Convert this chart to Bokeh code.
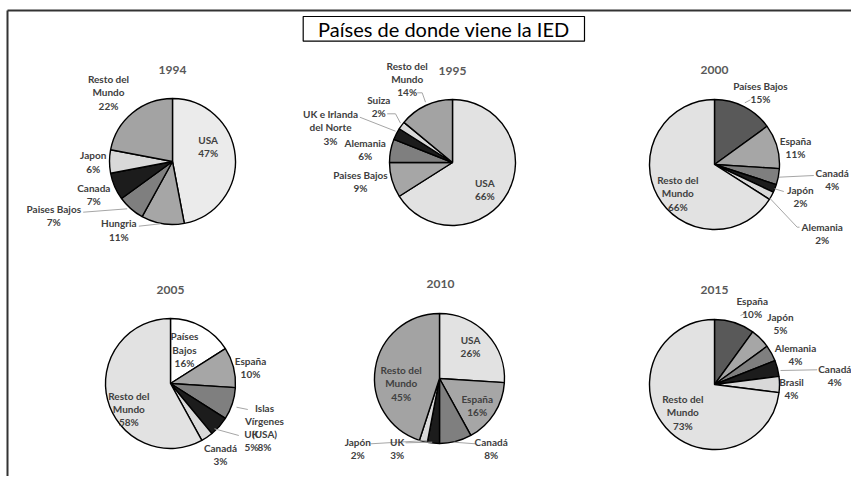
import math
from bokeh.plotting import figure
from bokeh.models import Range1d
from bokeh.embed import file_html
from bokeh.resources import INLINE
from bokeh.core.properties import value

# ---------------- data ----------------
main_title = "Países de donde viene la IED"
years = ["1994", "1995", "2000", "2005", "2010", "2015"]

countries_1994 = ["USA", "Hungria", "Paises Bajos", "Canada", "Japon", "Resto del\nMundo"]
shares_1994 = [47, 11, 7, 7, 6, 22]

countries_1995 = ["USA", "Paises Bajos", "Alemania", "UK e Irlanda\ndel Norte", "Suiza", "Resto del\nMundo"]
shares_1995 = [66, 9, 6, 3, 2, 14]

countries_2000 = ["Países Bajos", "España", "Canadá", "Japón", "Alemania", "Resto del\nMundo"]
shares_2000 = [15, 11, 4, 2, 2, 66]

countries_2005 = ["Países\nBajos", "España", "Islas\nVírgenes\n(USA)", "UK", "Canadá", "Resto del\nMundo"]
shares_2005 = [16, 10, 8, 5, 3, 58]

countries_2010 = ["USA", "España", "Canadá", "UK", "Japón", "Resto del\nMundo"]
shares_2010 = [26, 16, 8, 3, 2, 45]

countries_2015 = ["España", "Japón", "Alemania", "Canadá", "Brasil", "Resto del\nMundo"]
shares_2015 = [10, 5, 4, 4, 4, 73]

pie_countries = [countries_1994, countries_1995, countries_2000,
                 countries_2005, countries_2010, countries_2015]
pie_shares = [shares_1994, shares_1995, shares_2000,
              shares_2005, shares_2010, shares_2015]

# ---------------- layout / style (reference pixel coords) ----------------
W, H = 851, 476

def X(x):
    return x

def Y(y):
    return H - y

centers = [(172, 161), (452, 162), (714, 164), (170, 383), (439, 378), (714, 384)]
radii = [63, 63, 65, 65, 65, 65]
title_pos = [(172, 69), (452, 70), (714, 69), (170, 289), (440, 283), (714, 289)]

colors = [
    ["#ebebeb", "#a6a6a6", "#7f7f7f", "#1c1c1c", "#d9d9d9", "#a3a3a3"],
    ["#e2e2e2", "#a6a6a6", "#7f7f7f", "#1c1c1c", "#d9d9d9", "#a3a3a3"],
    ["#595959", "#a6a6a6", "#7f7f7f", "#1c1c1c", "#d9d9d9", "#e2e2e2"],
    ["#ffffff", "#a6a6a6", "#7f7f7f", "#1c1c1c", "#d9d9d9", "#e2e2e2"],
    ["#e2e2e2", "#a6a6a6", "#7f7f7f", "#1c1c1c", "#d9d9d9", "#a3a3a3"],
    ["#595959", "#a6a6a6", "#7f7f7f", "#1c1c1c", "#d9d9d9", "#e2e2e2"],
]

label_pos = [
    [(207.7, 146.3), (118.3, 229.5), (53.3, 215), (93.3, 194), (92.7, 161.5), (108, 91.7)],
    [(484.3, 189.2), (360, 181), (364.7, 149), (330, 126.7), (378.3, 105.7), (406.7, 78.3)],
    [(760, 92), (795, 146.7), (831.7, 179.2), (800, 196.3), (821.7, 233), (677.3, 192.7)],
    [(184, 349), (250, 367), (264, 427), (251, 439.7), (220, 453.7), (128.3, 408.5)],
    [(470, 346.3), (476.7, 404.7), (490.7, 448), (396.7, 447.7), (357.3, 447.7), (400.7, 382.7)],
    [(751.7, 306.7), (780, 323.3), (795, 354.2), (834.3, 375), (791, 388), (682.3, 411.7)],
]

leaders = [
    [[(82.7, 211.7), (126.7, 208.3)], [(138.3, 225.7), (160, 223.3)]],
    [[(416.7, 92.3), (421.7, 92.3), (425, 101.7)], [(386.7, 113.3), (395, 113.3), (400, 122.7)],
     [(359.3, 116.7), (395, 130.7)]],
    [[(744.3, 102.3), (750, 99.3)], [(778.3, 176.7), (813.3, 175)], [(774, 188.3), (783.3, 191)],
     [(769.3, 197.7), (796.7, 226.7), (799, 226.7)]],
    [[(236, 406.7), (247.3, 409)], [(214, 428.3), (238.3, 435)]],
    [[(453.3, 441.7), (475, 443.3)], [(405, 442.3), (431.7, 441.7)], [(370, 443.3), (426.7, 440)]],
    [[(740, 315), (745, 312.7)], [(780, 370), (816.7, 369.3)]],
]

FONT = "Lato"
LINE_H = 13.3

p = figure(width=W, height=H, output_backend="svg", toolbar_location=None,
           x_range=Range1d(0, W), y_range=Range1d(0, H),
           x_axis_type=None, y_axis_type=None, min_border=0)
p.outline_line_color = None
p.xgrid.visible = False
p.ygrid.visible = False
p.background_fill_color = "white"
p.border_fill_color = "white"

# outer frame (top and left edges visible)
p.line([X(7), X(867)], [Y(10), Y(10)], line_color="#333333", line_width=2)
p.line([X(7), X(7)], [Y(10), Y(492)], line_color="#333333", line_width=2)

# main title box
bx0, by0, bx1, by1 = 302.7, 16, 584, 40.7
p.quad(left=X(bx0), right=X(bx1), top=Y(by0), bottom=Y(by1),
       fill_color="white", line_color="black", line_width=1.2)
p.text(x=[X((bx0 + bx1) / 2)], y=[Y(28.8)], text=[main_title],
       text_font=value(FONT), text_font_size="20px", text_color="black",
       text_align="center", text_baseline="middle")

for i in range(6):
    cx, cy = centers[i]
    r = radii[i]
    shares = pie_shares[i]
    total = float(sum(shares))
    starts, ends = [], []
    cum = 0.0
    for s in shares:
        starts.append(math.pi / 2 - 2 * math.pi * cum / total)
        cum += s
        ends.append(math.pi / 2 - 2 * math.pi * cum / total)
    p.wedge(x=[X(cx)] * len(shares), y=[Y(cy)] * len(shares), radius=r,
            start_angle=starts, end_angle=ends, direction="clock",
            fill_color=colors[i], line_color="black", line_width=1.4)

    # year title
    tx, ty = title_pos[i]
    p.text(x=[X(tx)], y=[Y(ty)], text=[years[i]], text_font=value(FONT),
           text_font_size="12px", text_font_style="bold", text_color="#595959",
           text_align="center", text_baseline="middle")

    # leader lines
    for seg in leaders[i]:
        p.line([X(a) for a, b in seg], [Y(b) for a, b in seg],
               line_color="#a6a6a6", line_width=1)

    # labels
    xs, ys, ts = [], [], []
    for name, s, (lx, ly) in zip(pie_countries[i], shares, label_pos[i]):
        lines = name.split("\n") + ["%d%%" % s]
        n = len(lines)
        for k, t in enumerate(lines):
            xs.append(X(lx))
            ys.append(Y(ly + (k - (n - 1) / 2) * LINE_H))
            ts.append(t)
    p.text(x=xs, y=ys, text=ts, text_font=value(FONT), text_font_size="10px",
           text_font_style="bold", text_color="#404040",
           text_align="center", text_baseline="middle")

open("out.html", "w").write(file_html(p, INLINE))
